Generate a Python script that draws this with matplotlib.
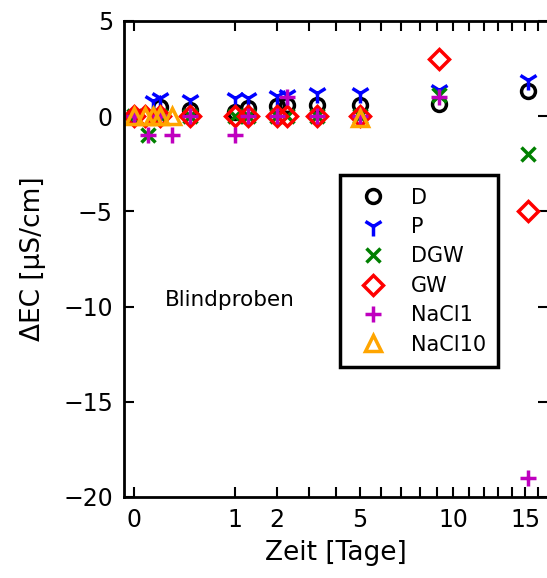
import numpy as np
import matplotlib
matplotlib.use("Agg")
import matplotlib.pyplot as plt

# Blank-sample conductivity changes over time (days)
t_D = [0, 0.066, 0.31, 1.0, 1.27, 2.0, 2.3, 3.3, 5.0, 9.1, 15.2]
ec_D = [0, 0.5, 0.3, 0.2, 0.45, 0.55, 0.6, 0.6, 0.6, 0.65, 1.3]

t_P = [0.035, 0.066, 0.31, 1.0, 1.27, 2.0, 2.3, 3.3, 5.0, 9.1, 15.2]
ec_P = [0.8, 0.95, 0.85, 0.95, 0.95, 1.05, 1.1, 1.2, 1.2, 1.4, 1.9]

t_DGW = [0, 0.019, 0.066, 0.31, 1.0, 1.27, 2.0, 2.3, 3.3, 5.0, 9.1, 15.2]
ec_DGW = [0, -1, 0, 0, 0, 0, 0, 0, 0, 0, 1.1, -2]

t_GW = [0, 0.012, 0.066, 0.31, 1.0, 1.27, 2.0, 2.3, 3.3, 5.0, 9.1, 15.2]
ec_GW = [0, 0, 0, 0, 0, 0, 0, 0, 0, 0, 3, -5]

t_NaCl1 = [0, 0.019, 0.066, 0.14, 0.31, 1.0, 1.27, 2.0, 2.3, 3.3, 5.0, 9.1, 15.2]
ec_NaCl1 = [0, -1, 0, -1, 0, -1, 0, 0, 1, 0, 0, 1, -19]

t_NaCl10 = [0, 0.012, 0.035, 0.066, 0.14, 5.0]
ec_NaCl10 = [0, 0, 0, 0, 0, -0.1]

xtick_days = list(range(0, 17))
xtick_labels = ["0", "1", "2", "5", "10", "15"]
ytick_vals = [-20, -15, -10, -5, 0, 5]

series = [
    ("D", t_D, ec_D, dict(marker="o", mfc="none", mec="k", ms=10)),
    ("P", t_P, ec_P, dict(marker="1", mec="b", ms=14)),
    ("DGW", t_DGW, ec_DGW, dict(marker="x", mec=(0, 0.5, 0), ms=10)),
    ("GW", t_GW, ec_GW, dict(marker="D", mfc="none", mec="r", ms=10)),
    ("NaCl1", t_NaCl1, ec_NaCl1, dict(marker="+", mec=(0.75, 0, 0.75), ms=12)),
    ("NaCl10", t_NaCl10, ec_NaCl10, dict(marker="^", mfc="none", mec="orange", ms=11)),
]

fig = plt.figure(figsize=(5.47, 5.78), dpi=100)
ax = fig.add_axes([124 / 547, 81 / 578, 424 / 547, 476 / 578])

for name, t, v, st in series:
    ax.plot(np.sqrt(t), v, linestyle="none", mew=2.5, label=name, **st)

ax.set_xlim(-0.1, 4.1)
ax.set_ylim(-20, 5)

ax.set_xticks(np.sqrt(xtick_days))
labels = [str(d) if str(d) in xtick_labels else "" for d in xtick_days]
ax.set_xticklabels(labels)
ax.set_yticks(ytick_vals)
ax.set_yticklabels([str(v).replace("-", "\u2212") for v in ytick_vals])

ax.tick_params(direction="in", length=7, width=1.5, top=True, right=True,
               labelsize=17, pad=8)
for s in ax.spines.values():
    s.set_linewidth(2)

ax.set_xlabel("Zeit [Tage]", fontsize=19, labelpad=6)
ax.set_ylabel("\u0394EC [\u00b5S/cm]", fontsize=19, labelpad=12)

ax.text(0.097, 0.414, "Blindproben", transform=ax.transAxes, fontsize=15.5,
        va="center", ha="left")

leg = ax.legend(loc="upper left", bbox_to_anchor=(0.509, 0.676), numpoints=1,
                fontsize=15, frameon=True, fancybox=False, framealpha=1,
                borderpad=0.6, labelspacing=0.45, handletextpad=0.8,
                borderaxespad=0)
leg.get_frame().set_edgecolor("k")
leg.get_frame().set_linewidth(2.5)

fig.savefig("out.png", dpi=100)
